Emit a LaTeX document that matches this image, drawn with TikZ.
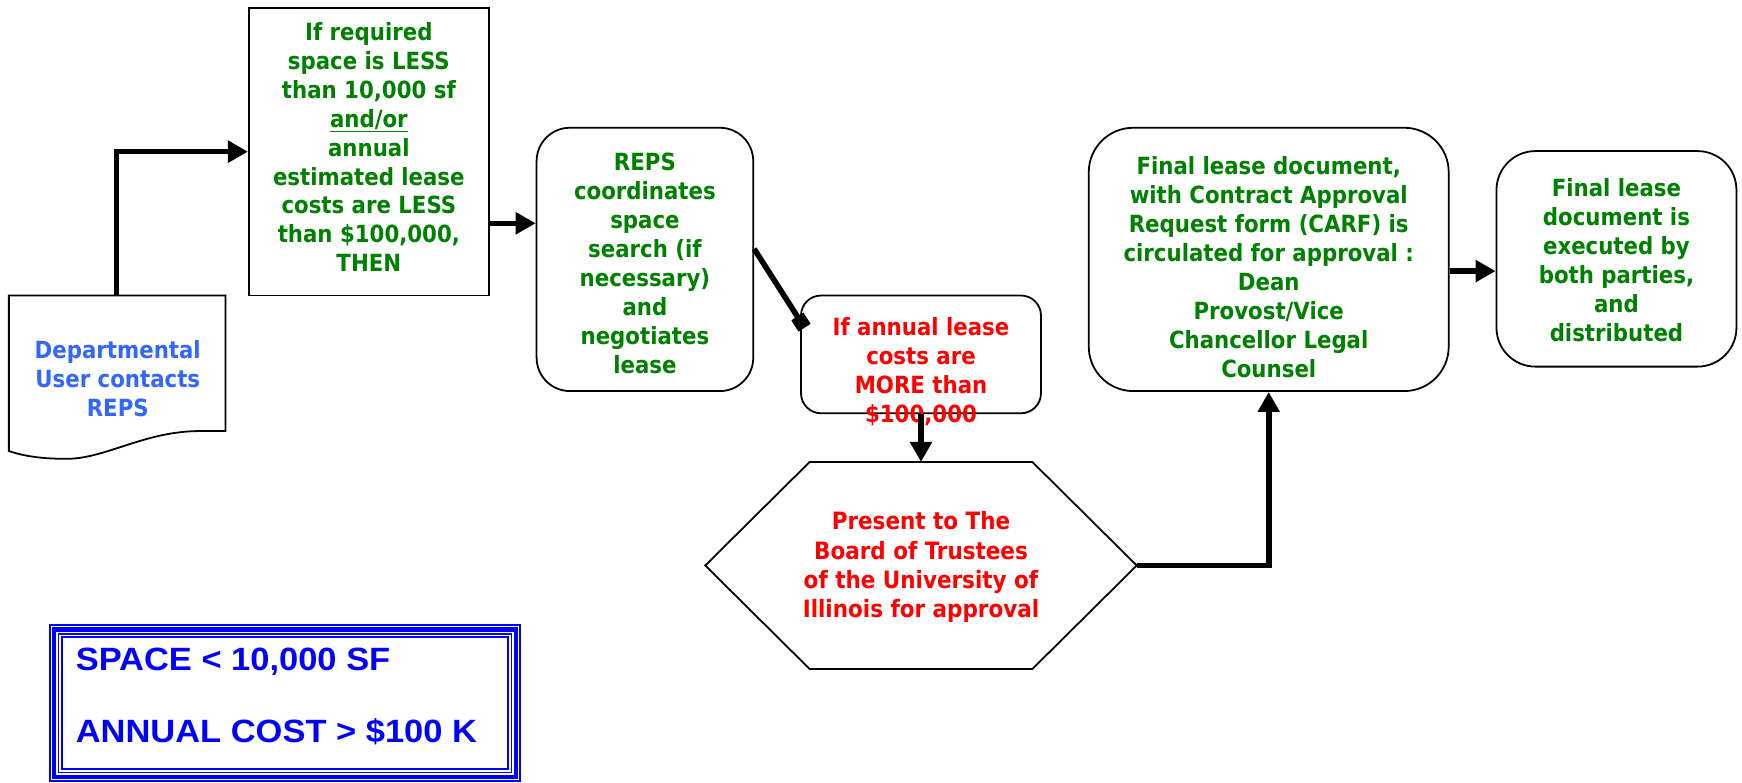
\documentclass[tikz,border=0pt]{standalone}
\usepackage{fontspec}
\setmainfont{DejaVu Sans}
\newfontfamily\condfont{DejaVu Sans Condensed}
\newfontfamily\legfont[FakeStretch=1.07]{Liberation Sans}
\usetikzlibrary{arrows.meta}
\definecolor{flowgreen}{RGB}{0,128,0}
\definecolor{flowred}{RGB}{255,0,0}
\definecolor{docblue}{RGB}{51,102,255}
\definecolor{legblue}{RGB}{0,0,255}
\tikzset{
  txt/.style={font=\condfont\bfseries\fontsize{21.3}{26}\selectfont, align=center, inner sep=0pt},
  sqbox/.style={draw=black, line width=1.6pt, inner sep=0pt},
  rbox/.style={sqbox, rounded corners=#1},
  conn/.style={line width=5pt, -{Triangle[length=18pt,width=19pt]}},
  connsq/.style={line width=5pt, -{Square[length=12pt,width=13pt]}},
  legtxt/.style={font=\legfont\bfseries\fontsize{29}{34}\selectfont, text=legblue, anchor=west, inner sep=0pt},
}
\begin{document}
\begin{tikzpicture}[x=1pt,y=-1pt]
\useasboundingbox (0,0) rectangle (1568,704);
\fill[white] (0,0) rectangle (1568,704);

% document shape
\draw[line width=1.6pt] (8,266) -- (203,266) -- (203,388) -- (180,388)
  .. controls (130,388) and (95,413) .. (60,413)
  .. controls (35,413) and (20,410) .. (8,406) -- cycle;
\node[txt, text=docblue] (doctext) at (106,341) {Departmental\\User contacts\\REPS};
\coordinate (doctop) at (105,266);

% box 1
\node[sqbox, minimum width=216pt, minimum height=259pt] (box1) at (332,136.5) {};
\node[txt, text=flowgreen] (box1text) at (332,132.5) {If required\\space is LESS\\than 10,000 sf\\\underline{and/or}\\annual\\estimated lease\\costs are LESS\\than \$100,000,\\THEN};

% box 2
\node[rbox=30pt, minimum width=195pt, minimum height=237pt] (box2) at (580.5,233.5) {};
\node[txt, text=flowgreen] (box2text) at (580.5,237) {REPS\\coordinates\\space\\search (if\\necessary)\\and\\negotiates\\lease};

% box 3
\node[rbox=18pt, minimum width=216pt, minimum height=106pt] (box3) at (829,319) {};
\node[txt, text=flowred] (box3text) at (829,334.5) {If annual lease\\costs are\\MORE than\\\$100,000};

% hexagon
\node[minimum width=388pt, minimum height=186pt, inner sep=0pt] (hex) at (829,509) {};
\draw[line width=1.6pt] (hex.west) -- ([xshift=94pt]hex.north west) -- ([xshift=-94pt]hex.north east)
  -- (hex.east) -- ([xshift=-94pt]hex.south east) -- ([xshift=94pt]hex.south west) -- cycle;
\node[txt, text=flowred, font=\condfont\bfseries\fontsize{21.5}{26.5}\selectfont] (hextext) at (829,510.5) {Present to The\\Board of Trustees\\of the University of\\Illinois for approval};

% box 4
\node[rbox=40pt, minimum width=324pt, minimum height=237pt] (box4) at (1142,233.5) {};
\node[txt, text=flowgreen] (box4text) at (1142,240.5) {Final lease document,\\with Contract Approval\\Request form (CARF) is\\circulated for approval :\\Dean\\Provost/Vice\\Chancellor Legal\\Counsel};

% box 5
\node[rbox=35pt, minimum width=216pt, minimum height=194pt] (box5) at (1455,233) {};
\node[txt, text=flowgreen] (box5text) at (1455,234) {Final lease\\document is\\executed by\\both parties,\\and\\distributed};

% connectors
\draw[conn] (doctop) |- (box1.west);
\draw[conn] ([yshift=-64.5pt]box1.east) -- ([yshift=-64.5pt]box1.east -| box2.west);
\draw[connsq] ([yshift=9.5pt]box2.east) -- ([xshift=4pt,yshift=24pt]box3.west);
\draw[conn] (box3.south) -- (hex.north);
\draw[conn] (hex.east) -| (box4.south);
\draw[conn] ([yshift=-10.5pt]box4.east) -- ([yshift=-10.5pt]box4.east -| box5.west);

% legend
\node[minimum width=425pt, minimum height=142pt, inner sep=0pt] (legend) at (256.5,633) {};
\draw[legblue, line width=2pt] ([shift={(1pt,1pt)}]legend.south west) rectangle ([shift={(-1pt,-1pt)}]legend.north east);
\draw[legblue, line width=3.8pt] ([shift={(4.8pt,4.8pt)}]legend.south west) rectangle ([shift={(-4.8pt,-4.8pt)}]legend.north east);
\draw[legblue, line width=1.6pt] ([shift={(8.8pt,8.8pt)}]legend.south west) rectangle ([shift={(-8.8pt,-8.8pt)}]legend.north east);
\draw[legblue, line width=1.6pt] ([shift={(11.8pt,11.8pt)}]legend.south west) rectangle ([shift={(-11.8pt,-11.8pt)}]legend.north east);
\node[legtxt] (leg1) at (68,596) {SPACE < 10,000 SF};
\node[legtxt] (leg2) at (68,659) {ANNUAL COST > \$100 K};
\end{tikzpicture}
\end{document}
